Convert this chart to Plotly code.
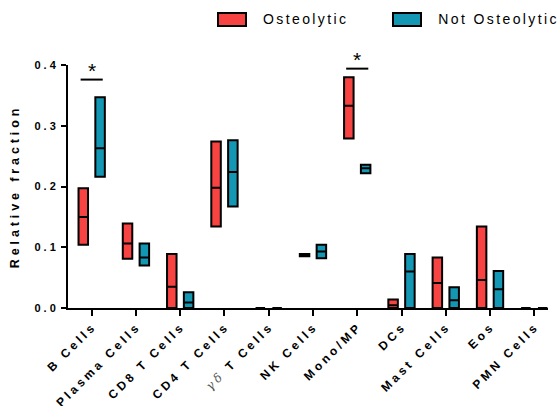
import plotly.graph_objects as go

categories = ["B Cells", "Plasma Cells", "CD8 T Cells", "CD4 T Cells", "γδ T Cells",
              "NK Cells", "Mono/MP", "DCs", "Mast Cells", "Eos", "PMN Cells"]
tick_labels = ["B Cells", "Plasma Cells", "CD8 T Cells", "CD4 T Cells",
               "<span style=\"font-family:'DejaVu Serif';font-style:italic;font-weight:normal;color:#555\">γδ</span> T Cells",
               "NK Cells", "Mono/MP", "DCs", "Mast Cells", "Eos", "PMN Cells"]

series_names = ["Osteolytic", "Not Osteolytic"]
series_colors = ["#F84343", "#1497B3"]

osteo_min = [0.104, 0.081, 0.0, 0.134, 0.0, 0.085, 0.279, 0.0, 0.0, 0.0, 0.0]
osteo_med = [0.150, 0.106, 0.035, 0.198, 0.0, 0.087, 0.333, 0.0045, 0.041, 0.046, 0.0]
osteo_max = [0.197, 0.139, 0.089, 0.274, 0.0, 0.089, 0.380, 0.014, 0.083, 0.134, 0.0]

not_min = [0.216, 0.070, 0.0, 0.167, 0.0, 0.082, 0.222, 0.0, 0.0, 0.0, 0.0]
not_med = [0.263, 0.083, 0.009, 0.224, 0.0, 0.093, 0.230, 0.060, 0.0127, 0.031, 0.0]
not_max = [0.347, 0.106, 0.026, 0.276, 0.0, 0.104, 0.236, 0.089, 0.034, 0.061, 0.0]

sig_categories = ["B Cells", "Mono/MP"]
sig_levels = [0.376, 0.394]
sig_marks = ["*", "*"]

y_ticks = [0.0, 0.1, 0.2, 0.3, 0.4]

FONT = "Liberation Sans, Arial, sans-serif"
LEGEND_SPACING = 2.4

fig = go.Figure()
for name, color, lo, med, hi in [
    (series_names[0], series_colors[0], osteo_min, osteo_med, osteo_max),
    (series_names[1], series_colors[1], not_min, not_med, not_max),
]:
    fig.add_trace(go.Box(
        x=categories, q1=lo, median=med, q3=hi, lowerfence=lo, upperfence=hi,
        name=name, fillcolor=color, line=dict(color="black", width=2),
        whiskerwidth=0, boxpoints=False, showlegend=False, hoverinfo="skip",
    ))

# significance bars and stars
half = 0.25
for cat, lvl, mark in zip(sig_categories, sig_levels, sig_marks):
    i = categories.index(cat)
    fig.add_shape(type="line", xref="x", yref="y", x0=i - half, x1=i + half,
                  y0=lvl, y1=lvl, line=dict(color="black", width=2))
    fig.add_annotation(x=i, y=lvl, xref="x", yref="y", text=mark, showarrow=False,
                       yanchor="bottom", yshift=-4, font=dict(family=FONT, size=21, color="black"))

# manual legend (plot area: x 68..548 px, y 65..308 px)
def px_x(p):
    return (p - 68) / 480.0

def px_y(p):
    return (308 - p) / 243.0

leg_box_left = [218, 393]
leg_text_left = [261, 436]
for name, color, bl, tl in zip(series_names, series_colors, leg_box_left, leg_text_left):
    fig.add_shape(type="rect", xref="paper", yref="paper",
                  x0=px_x(bl), x1=px_x(bl + 28), y0=px_y(26), y1=px_y(13),
                  fillcolor=color, line=dict(color="black", width=2))
    fig.add_annotation(x=px_x(tl), y=px_y(19.5), xref="paper", yref="paper",
                       text=name, showarrow=False, xanchor="left", yanchor="middle",
                       xshift=len(name) * LEGEND_SPACING / 2,
                       font=dict(family=FONT, size=14, color="black"))

fig.update_layout(
    width=557, height=406,
    margin=dict(l=68, r=9, t=65, b=98, autoexpand=False),
    paper_bgcolor="white", plot_bgcolor="white",
    boxmode="group", boxgap=0.24, boxgroupgap=0.435,
    font=dict(family=FONT, color="black"),
    xaxis=dict(
        type="category", range=[-0.535, 10.31], automargin=False,
        tickmode="array", tickvals=categories, ticktext=tick_labels,
        tickangle=-45, ticks="outside", ticklen=6, tickwidth=2, tickcolor="black",
        showline=True, linecolor="black", linewidth=2, showgrid=False, zeroline=False,
        tickfont=dict(family=FONT, size=12, color="black", weight="bold"),
    ),
    yaxis=dict(
        range=[0, 0.4], tickvals=y_ticks, tickformat=".1f", automargin=False,
        ticks="outside", ticklen=5, tickwidth=2, tickcolor="black", ticklabelstandoff=0,
        showline=True, linecolor="black", linewidth=2, showgrid=False, zeroline=False,
        tickfont=dict(family=FONT, size=11, color="black", weight="bold"),
        title=dict(text="Relative fraction", standoff=21,
                   font=dict(family=FONT, size=12.5, color="black", weight="bold")),
    ),
)

post = """
document.documentElement.style.margin='0';
document.body.style.margin='0';
document.body.style.padding='0';
document.body.style.overflow='hidden';
var gd = document.getElementById('{plot_id}');
gd.querySelectorAll('.xtick text').forEach(function(t){ t.style.letterSpacing='3.3px'; t.setAttribute('dx','2'); });
gd.querySelectorAll('.ytick text').forEach(function(t){ t.style.letterSpacing='3px'; });
gd.querySelectorAll('.ytitle').forEach(function(t){ t.style.letterSpacing='3.9px'; });
gd.querySelectorAll('.annotation-text').forEach(function(t){
  if (t.textContent.trim() !== '*') { t.style.letterSpacing='2.4px'; }
});
"""

fig.write_html("out.html", post_script=post, config={"displayModeBar": False})
